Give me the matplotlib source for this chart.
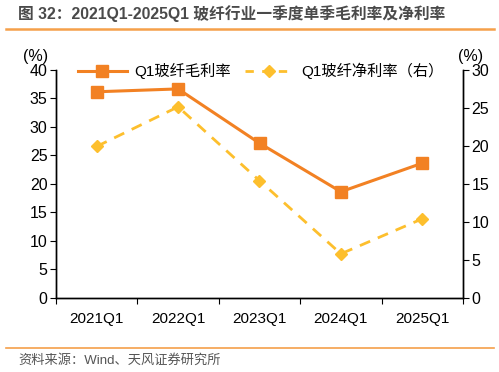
import matplotlib
matplotlib.use("Agg")
import matplotlib.pyplot as plt
from matplotlib.lines import Line2D

plt.rcParams['font.family'] = ['Liberation Sans', 'Noto Sans CJK SC', 'DejaVu Sans']

categories = ['2021Q1', '2022Q1', '2023Q1', '2024Q1', '2025Q1']
gross_margin = [36.1, 36.6, 27.1, 18.6, 23.6]
net_margin = [19.9, 25.1, 15.4, 5.8, 10.4]
left_ticks = [0, 5, 10, 15, 20, 25, 30, 35, 40]
right_ticks = [0, 5, 10, 15, 20, 25, 30]

c_gross = '#F28123'
c_net = '#FDBF2D'

fig = plt.figure(figsize=(4.99, 3.72), dpi=100)
W, H = 499, 372
ax = fig.add_axes([56 / W, 1 - 298 / H, (463 - 56) / W, (298 - 69.5) / H])
ax2 = ax.twinx()

x = list(range(len(categories)))
ax.plot(x, gross_margin, color=c_gross, lw=2.2, marker='s', ms=9, zorder=3)
ax2.plot(x, net_margin, color=c_net, lw=2.0, ls=(0, (4, 3)), marker='D', ms=6, zorder=3)

ax.set_xlim(-0.5, len(categories) - 0.5)
ax.set_ylim(0, 40)
ax2.set_ylim(0, 30)
ax.set_yticks(left_ticks)
ax2.set_yticks(right_ticks)
ax.set_xticks([i - 0.5 for i in range(len(categories) + 1)])
ax.set_xticklabels([])
ax.set_xticks(x, minor=True)
ax.set_xticklabels(categories, minor=True)
ax.tick_params(axis='x', which='minor', length=0, pad=10, labelsize=11)
ax.tick_params(axis='x', which='major', length=4, direction='out')
ax.tick_params(axis='y', length=4, labelsize=11.5, pad=2)
ax2.tick_params(axis='y', length=4, labelsize=11.5, pad=2)

for a in (ax, ax2):
    a.spines['top'].set_visible(False)
    for s in ('left', 'right', 'bottom'):
        a.spines[s].set_color('#000000')
        a.spines[s].set_linewidth(1.0)

fig.text(36 / W, 1 - 56 / H, '(%)', ha='center', va='center', fontsize=11.5)
fig.text(471 / W, 1 - 56 / H, '(%)', ha='center', va='center', fontsize=11.5)

handles = [
    Line2D([], [], color=c_gross, lw=2.2, marker='s', ms=8),
    Line2D([], [], color=c_net, lw=2.0, ls=(0, (3, 3)), marker='D', ms=6),
]
labels = ['Q1玻纤毛利率', 'Q1玻纤净利率（右）']
ax.legend(handles, labels, loc='upper left', bbox_to_anchor=(0.02, 1.09), ncol=2,
          frameon=False, fontsize=11, handlelength=3.2, columnspacing=0.9, handletextpad=0.5)

fig.text(18 / W, 1 - 14 / H, '图 32：2021Q1-2025Q1 玻纤行业一季度单季毛利率及净利率',
         ha='left', va='center', fontsize=11.3, color='#4a4a4a', fontweight='bold')
fig.add_artist(Line2D([6 / W, 494 / W], [1 - 29 / H, 1 - 29 / H], color='#F5A04A', lw=1.8))
fig.add_artist(Line2D([6 / W, 494 / W], [1 - 348 / H, 1 - 348 / H], color='#F5A04A', lw=1.2))
fig.text(18 / W, 1 - 360 / H, '资料来源：Wind、天风证券研究所', ha='left', va='center',
         fontsize=9.5, color='#555555')

fig.savefig('out.png', dpi=100)
